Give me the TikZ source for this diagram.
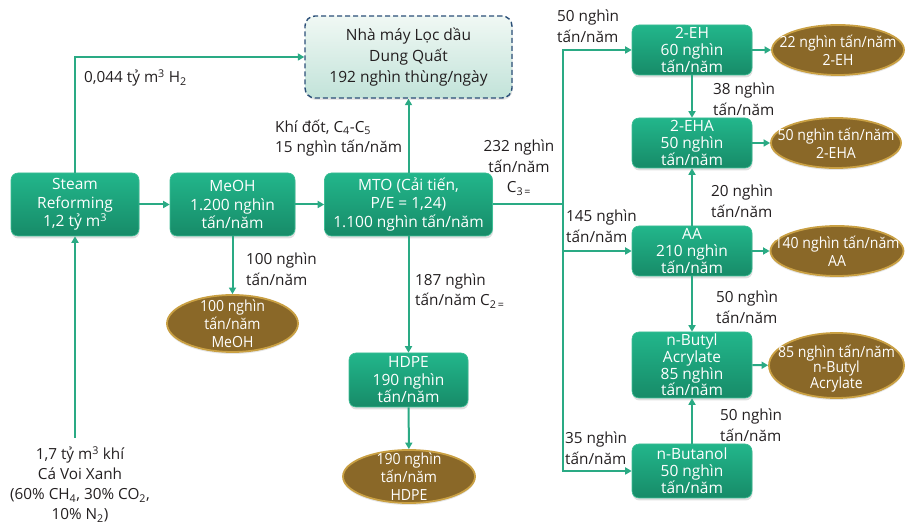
\documentclass[tikz,border=0pt]{standalone}
\usepackage{fontspec}
\setmainfont{Open Sans}
\newfontfamily\prodfont[FakeStretch=0.92]{Open Sans}
\usetikzlibrary{arrows.meta,shadows,shapes.geometric}

\definecolor{flow}{HTML}{2AAA84}
\definecolor{boxtop}{HTML}{22B68B}
\definecolor{boxbot}{HTML}{178B68}
\definecolor{boxedge}{HTML}{3DBE95}
\definecolor{prodfill}{HTML}{8A6828}
\definecolor{prodedge}{HTML}{C9A043}
\definecolor{refedge}{HTML}{2B4F78}
\definecolor{reftop}{HTML}{F0F8F4}
\definecolor{refbot}{HTML}{C2E3D9}
\definecolor{ink}{HTML}{231F20}

\tikzset{
  proc/.style={draw=boxedge, line width=0.6pt, rounded corners=7pt,
    top color=boxtop, bottom color=boxbot, text=white, align=center,
    inner sep=0pt, font=\fontsize{15.5}{18.5}\selectfont,
    drop shadow={opacity=0.25, shadow xshift=0.5pt, shadow yshift=-2.5pt}},
  smallproc/.style={proc, font=\fontsize{15.5}{17}\selectfont,
    minimum width=120pt},
  refinery/.style={draw=refedge, dashed, dash pattern=on 5pt off 3pt,
    line width=1.4pt, rounded corners=10pt, top color=reftop,
    bottom color=refbot, text=ink, align=center, inner sep=0pt,
    font=\fontsize{15.5}{21}\selectfont,
    drop shadow={opacity=0.2, shadow xshift=0.5pt, shadow yshift=-2pt}},
  prod/.style={ellipse, draw=prodedge, line width=1.8pt, fill=prodfill,
    inner sep=0pt,
    drop shadow={opacity=0.2, shadow xshift=0pt, shadow yshift=-2pt}},
  prodtext/.style={text=white, align=center, inner sep=0pt,
    font=\prodfont\fontsize{15.3}{18}\selectfont},
  flowlabel/.style={text=ink, inner sep=0pt,
    font=\fontsize{15.3}{20.5}\selectfont},
  flowline/.style={draw=flow, line width=2pt,
    -{Triangle[length=6.5pt,width=7pt]}},
  busline/.style={draw=flow, line width=2pt}
}

\begin{document}
\begin{tikzpicture}[x=1pt,y=-1pt]
\useasboundingbox (0,0) rectangle (914,526);

% process units
\node[proc, minimum width=128pt, minimum height=63pt] (steam) at (75,204.5)
  {Steam\\Reforming\\1,2 tỷ m\textsuperscript{3}};
\node[proc, minimum width=125pt, minimum height=63pt] (meoh) at (232.5,204.5)
  {MeOH\\1.200 nghìn\\tấn/năm};
\node[proc, minimum width=168pt, minimum height=63pt] (mto) at (408.5,204.5)
  {MTO (Cải tiến,\\P/E = 1,24)\\1.100 nghìn tấn/năm};
\node[refinery, minimum width=207pt, minimum height=82pt] (ref) at (408.5,57)
  {Nhà máy Lọc dầu\\Dung Quất\\192 nghìn thùng/ngày};
\node[proc, minimum width=119pt, minimum height=54pt,
  font=\fontsize{15.5}{17.5}\selectfont] (hdpe) at (408.5,380)
  {HDPE\\190 nghìn\\tấn/năm};

\node[smallproc, minimum height=50pt] (eh) at (692,50)
  {2-EH\\60 nghìn\\tấn/năm};
\node[smallproc, minimum height=50pt] (eha) at (692,143)
  {2-EHA\\50 nghìn\\tấn/năm};
\node[smallproc, minimum height=50pt] (aa) at (692,251)
  {AA\\210 nghìn\\tấn/năm};
\node[smallproc, minimum height=66pt, font=\fontsize{15.5}{16.6}\selectfont]
  (nba) at (692,365) {n-Butyl\\Acrylate\\85 nghìn\\tấn/năm};
\node[smallproc, minimum height=54pt] (nbut) at (692,471)
  {n-Butanol\\50 nghìn\\tấn/năm};

% products
\node[prod, minimum width=131pt, minimum height=57pt] (pmeoh) at (232.5,323.5)
  {};
\node[prodtext] (tmeoh) at (pmeoh) {100 nghìn\\tấn/năm\\MeOH};
\node[prod, minimum width=132pt, minimum height=53pt] (phdpe) at (409,476.5) {};
\node[prodtext] (thdpe) at (phdpe) {190 nghìn\\tấn/năm\\HDPE};
\node[prod, minimum width=132pt, minimum height=50pt] (peh) at (838,50) {};
\node[prodtext] (teh) at (peh) {22 nghìn tấn/năm\\2-EH};
\node[prod, minimum width=130pt, minimum height=50pt] (peha) at (836,143) {};
\node[prodtext] (teha) at (peha) {50 nghìn tấn/năm\\2-EHA};
\node[prod, minimum width=133pt, minimum height=50pt] (paa) at (837,251) {};
\node[prodtext] (taa) at (paa) {140 nghìn tấn/năm\\AA};
\node[prod, minimum width=135pt, minimum height=65pt] (pnba) at (836.5,365.5) {};
\node[prodtext, font=\prodfont\fontsize{15.3}{15.5}\selectfont,
  yshift=-3pt] (tnba) at (pnba)
  {85 nghìn tấn/năm\\n-Butyl\\Acrylate};

% connectors
\coordinate (feed) at (75,438);
\coordinate (bus) at (563,204.5);
\draw[flowline] (feed) -- (steam.south);
\draw[flowline] (steam.north) |- (ref.west);
\draw[flowline] (steam) -- (meoh);
\draw[flowline] (meoh) -- (mto);
\draw[flowline] (mto) -- (ref);
\draw[flowline] (meoh) -- (pmeoh);
\draw[flowline] (mto) -- (hdpe);
\draw[flowline] (hdpe) -- (phdpe);
\draw[busline] (mto.east) -- (bus);
\draw[flowline] (bus) |- (eh.west);
\draw[flowline] (bus) |- (aa.west);
\draw[flowline] (bus) |- (nbut.west);
\draw[flowline] (eh) -- (eha);
\draw[flowline] (aa) -- (eha);
\draw[flowline] (aa) -- (nba);
\draw[flowline] (nbut) -- (nba);
\draw[flowline] (eh) -- (peh);
\draw[flowline] (eha) -- (peha);
\draw[flowline] (aa) -- (paa);
\draw[flowline] (nba) -- (pnba);

% stream labels
\node[flowlabel, anchor=west] (lh2) at (84,78)
  {0,044 tỷ m\textsuperscript{3} H\textsubscript{2}};
\node[flowlabel, anchor=west, align=left] (lfuel) at (275,138)
  {Khí đốt, C\textsubscript{4}-C\textsubscript{5}\\15 nghìn tấn/năm};
\node[flowlabel, align=center] (lc3) at (519,168)
  {232 nghìn\\tấn/năm\\C\textsubscript{3\,=}};
\node[flowlabel, anchor=west, align=left] (l50a) at (557,26)
  {50 nghìn\\tấn/năm};
\node[flowlabel, anchor=west, align=left] (l145) at (566,226)
  {145 nghìn\\tấn/năm};
\node[flowlabel, anchor=west, align=left] (l35) at (565,448)
  {35 nghìn\\tấn/năm};
\node[flowlabel, anchor=west, align=left] (l38) at (713,99)
  {38 nghìn\\tấn/năm};
\node[flowlabel, anchor=west, align=left] (l20) at (711,201)
  {20 nghìn\\tấn/năm};
\node[flowlabel, anchor=west, align=left] (l50b) at (716,307)
  {50 nghìn\\tấn/năm};
\node[flowlabel, anchor=west, align=left] (l50c) at (720,425)
  {50 nghìn\\tấn/năm};
\node[flowlabel, anchor=west, align=left] (l100) at (246,269)
  {100 nghìn\\tấn/năm};
\node[flowlabel, anchor=west, align=left] (l187) at (415,291)
  {187 nghìn\\tấn/năm C\textsubscript{2\,=}};
\node[flowlabel, align=center, font=\fontsize{15.3}{19.8}\selectfont]
  (lfeed) at (80,484.5)
  {1,7 tỷ m\textsuperscript{3} khí\\Cá Voi Xanh\\(60\% CH\textsubscript{4}, 30\% CO\textsubscript{2},\\10\% N\textsubscript{2})};
\end{tikzpicture}
\end{document}
